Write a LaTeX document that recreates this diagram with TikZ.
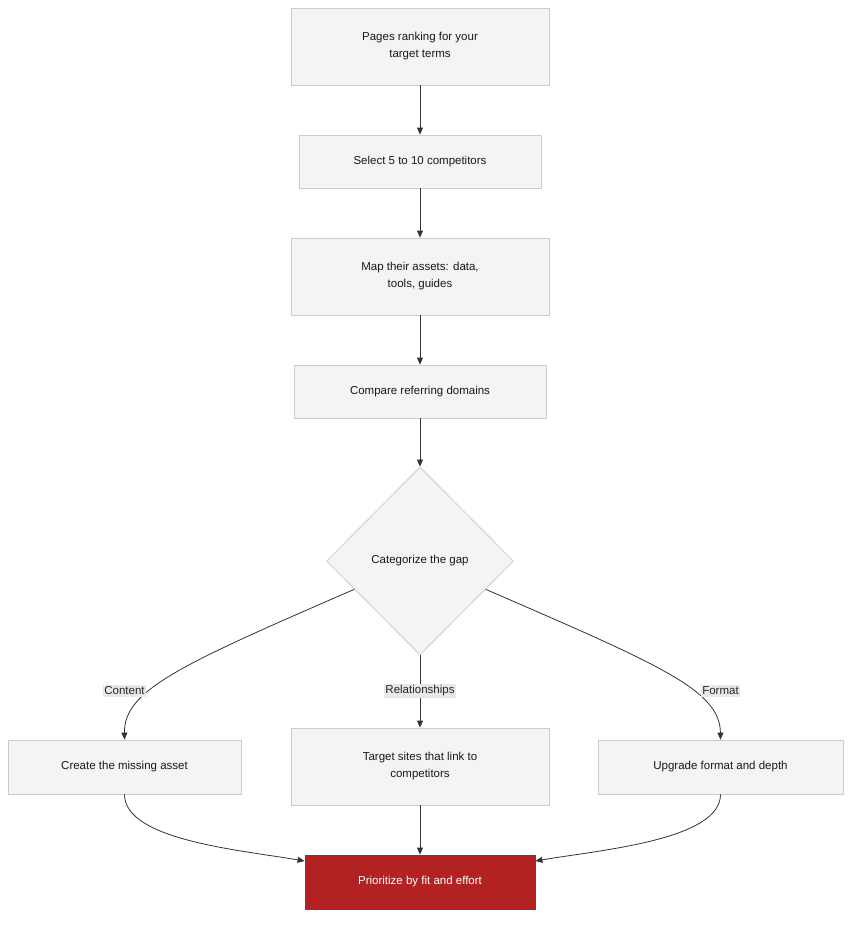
\documentclass[tikz,border=0pt]{standalone}
\usepackage{fontspec}
\setmainfont{Liberation Sans}
\usetikzlibrary{shapes.geometric,arrows.meta,calc}
\definecolor{boxfill}{HTML}{F4F4F4}
\definecolor{boxline}{HTML}{CCCCCC}
\definecolor{linkcol}{HTML}{333333}
\definecolor{redfill}{HTML}{B22222}
\definecolor{lblfill}{HTML}{E8E8E8}
\tikzset{
  box/.style={draw=boxline,fill=boxfill,line width=0.8pt,minimum width=#1,align=center,
    font=\fontsize{11.5}{17}\selectfont,text=black!90,inner sep=0pt},
  box/.default=258pt,
  link/.style={draw=linkcol,line width=0.8pt,-{Triangle[length=7pt,width=6pt]}},
  lbl/.style={fill=lblfill,font=\fontsize{11.5}{14}\selectfont,text=black!85,inner sep=1.5pt}
}
\begin{document}
\begin{tikzpicture}[x=1pt,y=-1pt]
\useasboundingbox (0,0) rectangle (859,926);
\node[box,minimum height=77pt] (pages) at (420,46.5) {Pages ranking for your\\target terms};
\node[box=242pt,minimum height=53pt] (select) at (420,161.5) {Select 5 to 10 competitors};
\node[box,minimum height=77pt] (map) at (420,276.5) {Map their assets: data,\\tools, guides};
\node[box=252pt,minimum height=53pt] (compare) at (420,391.5) {Compare referring domains};
\node[draw=boxline,fill=boxfill,line width=0.8pt,diamond,minimum width=187pt,minimum height=188pt,
  inner sep=0pt,font=\fontsize{11.5}{14}\selectfont,text=black!90] (gap) at (420,561) {Categorize the gap};
\node[box=233pt,minimum height=54pt] (create) at (124.5,767) {Create the missing asset};
\node[box,minimum height=77pt] (target) at (420,766.5) {Target sites that link to\\competitors};
\node[box=245pt,minimum height=54pt] (upgrade) at (720.5,767) {Upgrade format and depth};
\node[box=230pt,minimum height=54pt,fill=redfill,draw=redfill,text=white] (prio) at (420,882) {Prioritize by fit and effort};

\draw[link] (pages) -- (select);
\draw[link] (select) -- (map);
\draw[link] (map) -- (compare);
\draw[link] (compare) -- (gap);
\draw[link] ($(gap.west)!0.3!(gap.south)$) .. controls (180,665) and (124,690) .. (create.north);
\draw[link] (gap.south) -- (target.north);
\draw[link] ($(gap.east)!0.3!(gap.south)$) .. controls (660,665) and (720,690) .. (upgrade.north);
\node[lbl] (lcontent) at (124.5,691) {Content};
\node[lbl] (lrel) at (420,691) {Relationships};
\node[lbl] (lformat) at (720.5,691) {Format};
\draw[link] (create.south) .. controls (124.5,840) and (240,850) .. (prio.west |- 0,861);
\draw[link] (target) -- (prio);
\draw[link] (upgrade.south) .. controls (720.5,840) and (600,850) .. (prio.east |- 0,861);
\end{tikzpicture}
\end{document}
